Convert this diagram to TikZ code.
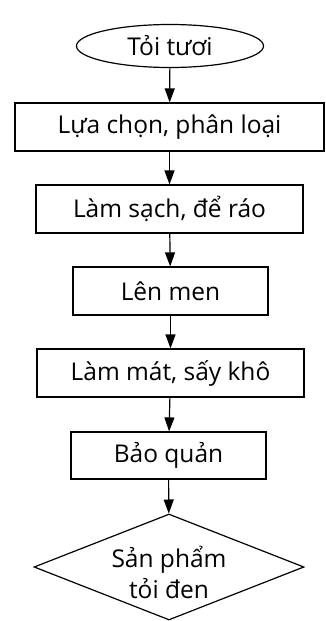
\documentclass[tikz,border=0pt]{standalone}
\usepackage{fontspec}
\setmainfont{Open Sans}
\usetikzlibrary{shapes.geometric,arrows.meta}
\begin{document}
\begin{tikzpicture}[x=1pt,y=-1pt,
  font=\fontsize{24.5}{31}\selectfont,
  every node/.style={draw, line width=1.2pt, inner sep=0pt, anchor=center},
  procbox/.style={rectangle, minimum height=48pt},
  flow/.style={-{Triangle[width=10pt,length=14pt]}, line width=1.2pt}]
  \useasboundingbox (0,0) rectangle (325,621);
  \node[ellipse, minimum width=187pt, minimum height=43pt] (start) at (170,46) {Tỏi tươi};
  \node[procbox, minimum width=309pt] (s1) at (169.5,127) {Lựa chọn, phân loại};
  \node[procbox, minimum width=267pt] (s2) at (169.5,209) {Làm sạch, để ráo};
  \node[procbox, minimum width=195pt] (s3) at (170.5,291) {Lên men};
  \node[procbox, minimum width=267pt] (s4) at (170.5,373) {Làm mát, sấy khô};
  \node[procbox, minimum width=195pt, minimum height=47pt] (s5) at (168.5,455.5) {Bảo quản};
  % empty diamond keeps its fixed size; the label sits on top of it
  \node[diamond, minimum width=270pt, minimum height=106pt] (end) at (169,567) {};
  \node[draw=none, align=center] (endlabel) at (169,572) {Sản phẩm\\tỏi đen};
  \draw[flow] (start) -- (s1);
  \draw[flow] (s1) -- (s2);
  \draw[flow] (s2) -- (s3);
  \draw[flow] (s3) -- (s4);
  \draw[flow] (s4) -- (s5);
  \draw[flow] (s5) -- (end);
\end{tikzpicture}
\end{document}
